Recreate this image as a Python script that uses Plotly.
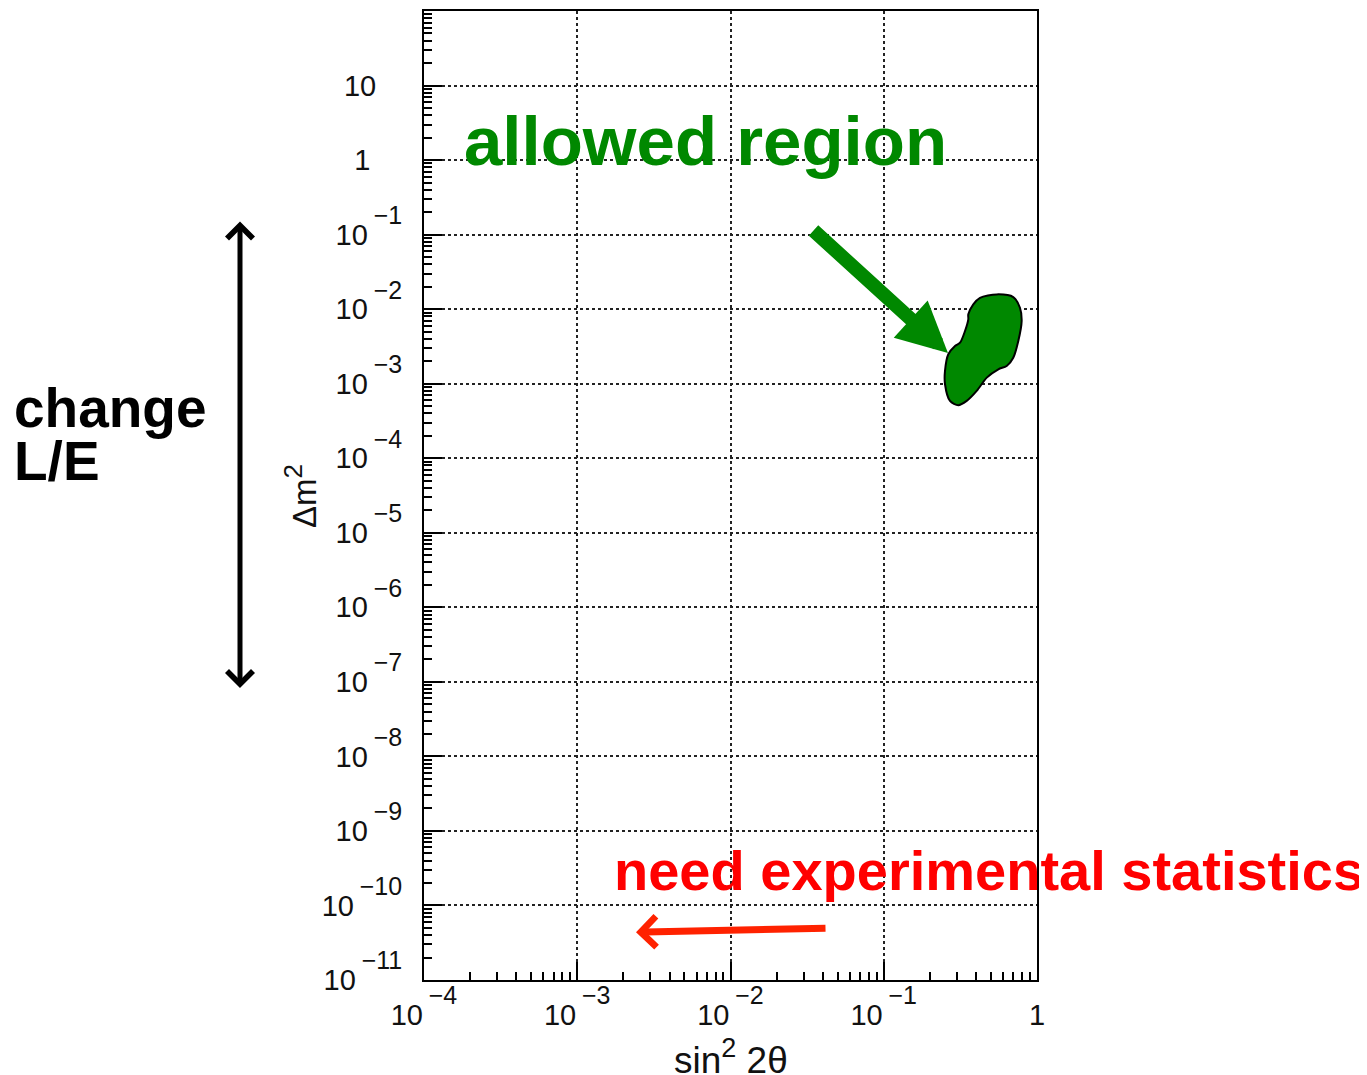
import plotly.graph_objects as go

# ---- data ----
# allowed-region contour (sin^2 2theta, delta m^2)
region_x = [0.4246, 0.5458, 0.700, 0.774, 0.794, 0.755, 0.700, 0.634, 0.5594,
            0.470, 0.404, 0.3477, 0.3066, 0.2706, 0.2510, 0.2510, 0.2638,
            0.2917, 0.3146, 0.3390, 0.3562, 0.3562, 0.3840, 0.4246]
region_y = [0.01421, 0.01578, 0.01452, 0.01044, 0.006929, 0.003738, 0.002233,
            0.001729, 0.001562, 0.001205, 0.0007993, 0.0005873, 0.0005144,
            0.0005873, 0.0009831, 0.001482, 0.002480, 0.003204, 0.003548,
            0.005088, 0.007302, 0.008517, 0.01160, 0.01421]

x_exponents = [-4, -3, -2, -1, 0]
y_exponents = [-11, -10, -9, -8, -7, -6, -5, -4, -3, -2, -1, 0, 1]
minor_mults = [2, 3, 4, 5, 6, 7, 8, 9]


def exp_part(txt, hidden=False):
    style = "font-size:25px" + (";color:white" if hidden else "")
    return "<sup><sup><span style='%s'>%s</span></sup></sup>" % (style, txt)


def label(e, pad=False):
    if e == 0:
        base = "1"
    elif e == 1:
        base = "10"
    else:
        return "10\u2009" + exp_part("\u2212%d" % (-e))
    if pad:
        lead = "\u2009" if e == 0 else ""
        return base + lead + exp_part("11", hidden=True)
    return base


x_tickvals = [10.0 ** e for e in x_exponents]
x_ticktext = [label(e) for e in x_exponents]
y_tickvals = [10.0 ** e for e in y_exponents]
y_ticktext = [label(e, pad=True) for e in y_exponents]
x_minor = [m * 10.0 ** e for e in x_exponents[:-1] for m in minor_mults]
y_minor = [m * 10.0 ** e for e in range(-11, 2) for m in minor_mults]

OFF = 8  # page body margin
W, H = 1367 - OFF, 1075 - OFF
L, R, T, B = 424, 1037, 9, 980  # plot frame in reference pixels


def px(x):
    return (x - L) / (R - L)


def py(y):
    return (B - y) / (B - T)


FONT = "Liberation Sans, Arial, Helvetica, sans-serif"
GREEN = "#008800"

fig = go.Figure()
fig.add_trace(go.Scatter(
    x=region_x, y=region_y, mode="lines", fill="toself",
    fillcolor=GREEN, line=dict(color="black", width=2, shape="spline", smoothing=0.8),
    hoverinfo="skip", showlegend=False))

axis_common = dict(
    type="log", showline=True, linecolor="black", linewidth=2, mirror=True,
    ticks="inside", ticklen=18, tickwidth=2, tickcolor="black",
    showgrid=True, gridcolor="#222222", gridwidth=1.5, griddash="dot",
    zeroline=False, tickfont=dict(family=FONT, size=29, color="#111111"),
    tickmode="array",
)

fig.update_xaxes(
    **axis_common, range=[-4, 0], tickvals=x_tickvals, ticktext=x_ticktext,
    minor=dict(tickvals=x_minor, ticks="inside", ticklen=8, tickwidth=2,
               tickcolor="black", showgrid=False),
    ticklabelstandoff=8,
)
fig.update_yaxes(
    **axis_common, range=[-11, 2], tickvals=y_tickvals, ticktext=y_ticktext,
    minor=dict(tickvals=y_minor, ticks="inside", ticklen=8, tickwidth=2,
               tickcolor="black", showgrid=False),
    ticklabelstandoff=14,
)

annotations = [
    # axis titles
    dict(text="sin<sup><span style='font-size:27px'>2</span></sup> 2\u03b8",
         x=px(731), y=py(1057), xref="paper", yref="paper", showarrow=False,
         xanchor="center", yanchor="middle",
         font=dict(family=FONT, size=37, color="#111111")),
    dict(text="\u0394m<sup><span style='font-size:26px'>2</span></sup>",
         x=px(301), y=py(495), xref="paper", yref="paper", showarrow=False,
         xanchor="center", yanchor="middle", textangle=-90,
         font=dict(family=FONT, size=33, color="#111111")),
    # labels
    dict(text="<b>allowed region</b>", x=px(705), y=py(140), xref="paper", yref="paper",
         showarrow=False, xanchor="center", yanchor="middle",
         font=dict(family=FONT, size=69, color=GREEN)),
    dict(text="<b>need experimental statistics</b>", x=px(989), y=py(870), xref="paper",
         yref="paper", showarrow=False, xanchor="center", yanchor="middle",
         font=dict(family=FONT, size=56, color="#ff0000")),
    dict(text="<b>change</b>", x=px(12), y=py(407), xref="paper", yref="paper",
         showarrow=False, xanchor="left", yanchor="middle", align="left",
         font=dict(family=FONT, size=55, color="black")),
    dict(text="<b>L/E</b>", x=px(12), y=py(460), xref="paper", yref="paper",
         showarrow=False, xanchor="left", yanchor="middle", align="left",
         font=dict(family=FONT, size=55, color="black")),
    # green arrow pointing at the region
    dict(x=-0.581, y=-2.588, ax=-1.468, ay=-0.927, xref="x", yref="y", axref="x", ayref="y",
         text="", showarrow=True, arrowhead=2, arrowsize=0.72, arrowwidth=14,
         arrowcolor=GREEN, standoff=0),
    # red arrow to small sin^2 2theta
    dict(x=-2.6166, y=-10.358, ax=-1.3703, ay=-10.304, xref="x", yref="y", axref="x",
         ayref="y", text="", showarrow=True, arrowhead=4, arrowsize=0.85, arrowwidth=7,
         arrowcolor="#ff2200", standoff=0),
    # black double arrow (change L/E)
    dict(x=px(240), y=py(220), ax=0, ay=468, xref="paper", yref="paper",
         text="", showarrow=True, arrowhead=4, startarrowhead=4, arrowside="end+start",
         arrowsize=1, startarrowsize=1, arrowwidth=5, arrowcolor="black", standoff=0,
         startstandoff=0),
]

fig.update_layout(
    width=W, height=H,
    margin=dict(l=L - OFF, r=W - (R - OFF), t=T - OFF, b=H - (B - OFF), pad=0),
    paper_bgcolor="white", plot_bgcolor="white",
    annotations=annotations, showlegend=False,
    font=dict(family=FONT),
)

fig.write_html("out.html")
